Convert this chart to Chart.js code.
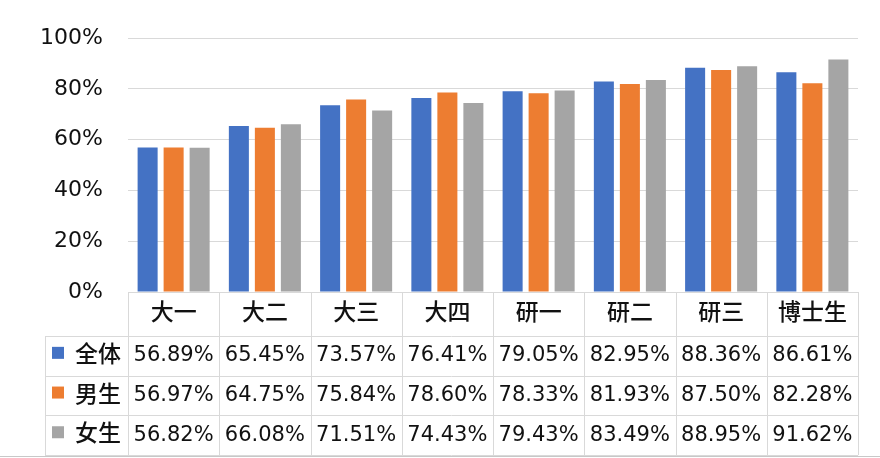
<!DOCTYPE html>
<html>
<head>
<meta charset="utf-8">
<script src="https://cdn.jsdelivr.net/npm/chart.js@4/dist/chart.umd.min.js"></script>
<style>
  html, body { margin: 0; padding: 0; background: #fff; }
  #wrap { width: 880px; height: 458px; }
</style>
</head>
<body>
<div id="wrap"><canvas id="chart" width="880" height="458"></canvas></div>
<script>
// categories and series (percent)
const categories = ["大一", "大二", "大三", "大四", "研一", "研二", "研三", "博士生"];
const seriesNames = ["全体", "男生", "女生"];
const allStudents = [56.89, 65.45, 73.57, 76.41, 79.05, 82.95, 88.36, 86.61];
const maleStudents = [56.97, 64.75, 75.84, 78.60, 78.33, 81.93, 87.50, 82.28];
const femaleStudents = [56.82, 66.08, 71.51, 74.43, 79.43, 83.49, 88.95, 91.62];
const yTicks = [0, 20, 40, 60, 80, 100];

const colors = ["#4472C4", "#ED7D31", "#A5A5A5"];
const FONT = "'DejaVu Sans', 'Noto Sans CJK SC', sans-serif";

// =========================
// DATA TABLE UNDER THE PLOT
// =========================
const dataTable = {
  id: "dataTable",
  afterDraw(chart) {
    const ctx = chart.ctx;
    const area = chart.chartArea;
    const xs = chart.scales.x;
    const colW = (area.right - area.left) / categories.length;
    const headTop = area.bottom;
    const headBottom = 336;
    const rowH = 39.7;
    const tableBottom = headBottom + rowH * 3;
    const labelLeft = 45;

    ctx.save();
    ctx.strokeStyle = "#d9d9d9";
    ctx.lineWidth = 1;

    // horizontal lines
    ctx.beginPath();
    ctx.moveTo(area.left, headTop + 0.5);
    ctx.lineTo(area.right, headTop + 0.5);
    for (let r = 0; r <= 3; r++) {
      const y = Math.round(headBottom + r * rowH) + 0.5;
      ctx.moveTo(labelLeft, y);
      ctx.lineTo(area.right, y);
    }
    // vertical lines
    for (let i = 0; i <= categories.length; i++) {
      const x = Math.round(area.left + i * colW) + 0.5;
      ctx.moveTo(x, headTop);
      ctx.lineTo(x, tableBottom);
    }
    ctx.moveTo(labelLeft + 0.5, headBottom);
    ctx.lineTo(labelLeft + 0.5, tableBottom);
    ctx.stroke();

    // header labels
    ctx.fillStyle = "#111";
    ctx.textAlign = "center";
    ctx.textBaseline = "middle";
    ctx.font = "500 23px " + FONT;
    categories.forEach((c, i) => {
      ctx.fillText(c, xs.getPixelForValue(i), (headTop + headBottom) / 2);
    });

    // data rows
    chart.data.datasets.forEach((ds, r) => {
      const yMid = headBottom + rowH * r + rowH / 2;
      ctx.fillStyle = ds.backgroundColor;
      ctx.fillRect(52, yMid - 9, 12, 12);
      ctx.fillStyle = "#111";
      ctx.textAlign = "left";
      ctx.font = "500 23px " + FONT;
      ctx.fillText(ds.label, 75, yMid);
      ctx.textAlign = "center";
      ctx.font = "21px " + FONT;
      ds.data.forEach((v, i) => {
        ctx.fillText(v.toFixed(2) + "%", xs.getPixelForValue(i), yMid);
      });
    });

    // bottom edge
    ctx.strokeStyle = "#c8c8c8";
    ctx.beginPath();
    ctx.moveTo(0, 456.5);
    ctx.lineTo(880, 456.5);
    ctx.stroke();
    ctx.restore();
  }
};

const ctx = document.getElementById("chart").getContext("2d");

new Chart(ctx, {
  type: "bar",
  data: {
    labels: categories,
    datasets: [
      { label: seriesNames[0], data: allStudents, backgroundColor: colors[0] },
      { label: seriesNames[1], data: maleStudents, backgroundColor: colors[1] },
      { label: seriesNames[2], data: femaleStudents, backgroundColor: colors[2] }
    ]
  },
  options: {
    responsive: false,
    animation: false,
    layout: { padding: { left: 0, right: 22, top: 36, bottom: 166 } },
    datasets: {
      bar: { categoryPercentage: 0.855, barPercentage: 0.77 }
    },
    plugins: {
      legend: { display: false },
      tooltip: { enabled: false }
    },
    scales: {
      x: { display: false },
      y: {
        min: 0,
        max: 100,
        afterFit(scale) { scale.width = 128; },
        afterBuildTicks(scale) { scale.ticks = yTicks.map(v => ({ value: v })); },
        border: { display: false },
        grid: { color: "#d9d9d9", drawTicks: false },
        ticks: {
          padding: 25,
          color: "#111",
          font: { family: FONT, size: 22 },
          callback: v => v + "%"
        }
      }
    }
  },
  plugins: [dataTable]
});
</script>
</body>
</html>
